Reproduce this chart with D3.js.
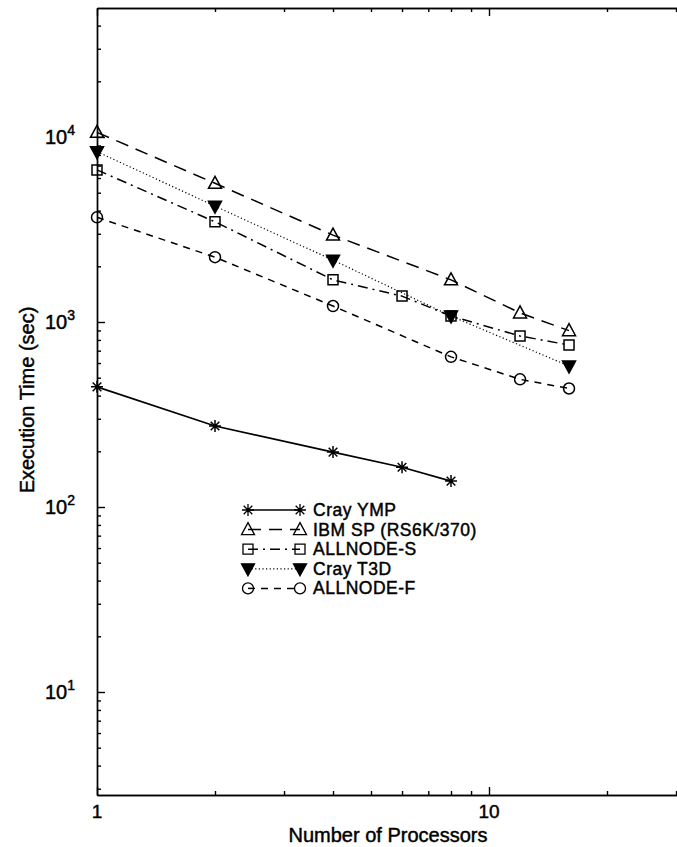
<!DOCTYPE html>
<html>
<head>
<meta charset="utf-8">
<script src="https://cdn.jsdelivr.net/npm/d3@7"></script>
<style>
  body { margin: 0; background: #fff; }
  svg { display: block; }
  text { font-family: "Liberation Sans", Arial, sans-serif; fill: #000; stroke: #000; stroke-width: 0.45px; }
  .axis path, .axis line { stroke: #000; stroke-width: 1.4; }
</style>
</head>
<body>
<div id="chart"></div>
<script>
// Execution time vs number of processors, log-log

const crayYmpProcs = [1, 2, 4, 6, 8]
const crayYmpTime = [446, 274, 198, 164, 138]

const ibmSpProcs = [1, 2, 4, 8, 12, 16]
const ibmSpTime = [10600, 5620, 2950, 1690, 1120, 898]

const allnodeSProcs = [1, 2, 4, 6, 8, 12, 16]
const allnodeSTime = [6640, 3480, 1690, 1380, 1077, 840, 751]

const crayT3dProcs = [1, 2, 4, 8, 16]
const crayT3dTime = [8330, 4230, 2160, 1077, 578]

const allnodeFProcs = [1, 2, 4, 8, 12, 16]
const allnodeFTime = [3680, 2240, 1220, 648, 490, 437]

const seriesNames = ['Cray YMP', 'IBM SP (RS6K/370)', 'ALLNODE-S', 'Cray T3D', 'ALLNODE-F']
const xTickLabels = [1, 10]
const yTickExps = [1, 2, 3, 4]

const chartW = 677, chartH = 847
const plotLeft = 97, plotRight = 677, plotTop = 8, plotBottom = 795

let svg = d3.select('#chart').append('svg')
  .attr('width', chartW)
  .attr('height', chartH)

// Scales: fixed decade spacing, then stretched to the plot box
let x = d3.scaleLog().domain([1, 10]).range([plotLeft, 489])
x.domain([1, x.invert(plotRight)]).range([plotLeft, plotRight])

let y = d3.scaleLog().domain([10, 1e4]).range([692, 137])
y.domain([y.invert(plotBottom), y.invert(plotTop)]).range([plotBottom, plotTop])

// Minor ticks for a log axis
const minorTicks = (scale) => {
  let [lo, hi] = scale.domain()
  let out = []
  for (let e = Math.floor(Math.log10(lo)); e <= Math.ceil(Math.log10(hi)); e++) {
    for (let k = 2; k <= 9; k++) {
      let v = k * Math.pow(10, e)
      if (v >= lo && v <= hi) out.push(v)
    }
  }
  return out
}
const majorTicks = (scale) => {
  let [lo, hi] = scale.domain()
  let out = []
  for (let e = Math.ceil(Math.log10(lo)); e <= Math.floor(Math.log10(hi)); e++) {
    out.push(Math.pow(10, e))
  }
  return out
}

// Axes, ticks pointing into the plot
const addAxis = (axis, tx, ty) => {
  svg.append('g')
    .attr('class', 'axis')
    .attr('transform', 'translate(' + tx + ',' + ty + ')')
    .call(axis)
    .call(g => g.selectAll('text').remove())
}

addAxis(d3.axisRight(y).tickValues(minorTicks(y)).tickSize(4).tickSizeOuter(0), plotLeft, 0)
addAxis(d3.axisRight(y).tickValues(majorTicks(y)).tickSize(8).tickSizeOuter(0), plotLeft, 0)
addAxis(d3.axisTop(x).tickValues(minorTicks(x)).tickSize(4).tickSizeOuter(0), 0, plotBottom)
addAxis(d3.axisTop(x).tickValues(majorTicks(x)).tickSize(8).tickSizeOuter(0), 0, plotBottom)
addAxis(d3.axisBottom(x).tickValues(minorTicks(x)).tickSize(4).tickSizeOuter(0), 0, plotTop)
addAxis(d3.axisBottom(x).tickValues(majorTicks(x)).tickSize(8).tickSizeOuter(0), 0, plotTop)

// Tick labels
svg.append('g')
  .selectAll('text')
  .data(xTickLabels)
  .enter()
  .append('text')
  .attr('x', d => x(d))
  .attr('y', plotBottom + 23)
  .attr('text-anchor', 'middle')
  .style('font-size', '19px')
  .text(d => d)

let yLabels = svg.append('g')
  .selectAll('text')
  .data(yTickExps)
  .enter()
  .append('text')
  .attr('x', 75)
  .attr('y', d => y(Math.pow(10, d)) + 7)
  .attr('text-anchor', 'end')
  .style('font-size', '20px')
yLabels.append('tspan').text('10')
yLabels.append('tspan')
  .attr('dy', -9)
  .style('font-size', '14px')
  .text(d => d)

// Axis titles
svg.append('text')
  .attr('text-anchor', 'middle')
  .attr('transform', 'translate(388, 842)')
  .style('font-size', '20px')
  .text('Number of Processors')

svg.append('text')
  .attr('text-anchor', 'middle')
  .attr('transform', 'translate(34, 400) rotate(-90)')
  .style('font-size', '20px')
  .text('Execution Time (sec)')

// Marker shapes, unfilled except the T3D triangle
const markerPath = (type) => {
  if (type === 'star') {
    let r = 6, d = r * 0.72
    return 'M' + (-r) + ',0H' + r + 'M0,' + (-r) + 'V' + r +
      'M' + (-d) + ',' + (-d) + 'L' + d + ',' + d +
      'M' + (-d) + ',' + d + 'L' + d + ',' + (-d)
  }
  if (type === 'triangle') return 'M0,-7L6.5,5H-6.5Z'
  if (type === 'triangleDown') return 'M0,7L6.5,-5H-6.5Z'
  if (type === 'square') return 'M-5,-5H5V5H-5Z'
  return d3.symbol(d3.symbolCircle, 95)()
}

let series = [
  { name: seriesNames[0], procs: crayYmpProcs, time: crayYmpTime, dash: null, width: 1.6, marker: 'star' },
  { name: seriesNames[1], procs: ibmSpProcs, time: ibmSpTime, dash: '13,8', width: 1.5, marker: 'triangle' },
  { name: seriesNames[2], procs: allnodeSProcs, time: allnodeSTime, dash: '10,5,2,5', width: 1.5, marker: 'square' },
  { name: seriesNames[3], procs: crayT3dProcs, time: crayT3dTime, dash: '1.2,2.4', width: 1.2, marker: 'triangleDown' },
  { name: seriesNames[4], procs: allnodeFProcs, time: allnodeFTime, dash: '7,6', width: 1.5, marker: 'circle' }
]

let line = d3.line()
  .x(d => x(d[0]))
  .y(d => y(d[1]))

series.forEach(s => {
  let pts = s.procs.map((p, i) => [p, s.time[i]])
  let g = svg.append('g').attr('class', 'series')

  g.append('path')
    .attr('d', line(pts))
    .style('fill', 'none')
    .style('stroke', '#000')
    .style('stroke-width', s.width)
    .style('stroke-dasharray', s.dash)

  g.selectAll('path.marker')
    .data(pts)
    .enter()
    .append('path')
    .attr('class', 'marker')
    .attr('transform', d => 'translate(' + x(d[0]) + ',' + y(d[1]) + ')')
    .attr('d', markerPath(s.marker))
    .style('fill', s.marker === 'triangleDown' ? '#000' : 'none')
    .style('stroke', '#000')
    .style('stroke-width', 1.5)
})

// Legend
let legend = svg.append('g')
  .attr('class', 'legend')

series.forEach((s, i) => {
  let ly = 510 + i * 19.6
  legend.append('line')
    .attr('x1', 248).attr('x2', 300)
    .attr('y1', ly).attr('y2', ly)
    .style('stroke', '#000')
    .style('stroke-width', s.width)
    .style('stroke-dasharray', s.dash)
  ;[248, 300].forEach(mx => {
    legend.append('path')
      .attr('transform', 'translate(' + mx + ',' + ly + ')')
      .attr('d', markerPath(s.marker))
      .style('fill', s.marker === 'triangleDown' ? '#000' : 'none')
      .style('stroke', '#000')
      .style('stroke-width', 1.3)
  })
  legend.append('text')
    .attr('x', 313)
    .attr('y', ly + 6)
    .style('font-size', '17.5px')
    .style('letter-spacing', '0.5px')
    .text(s.name)
})
</script>
</body>
</html>
